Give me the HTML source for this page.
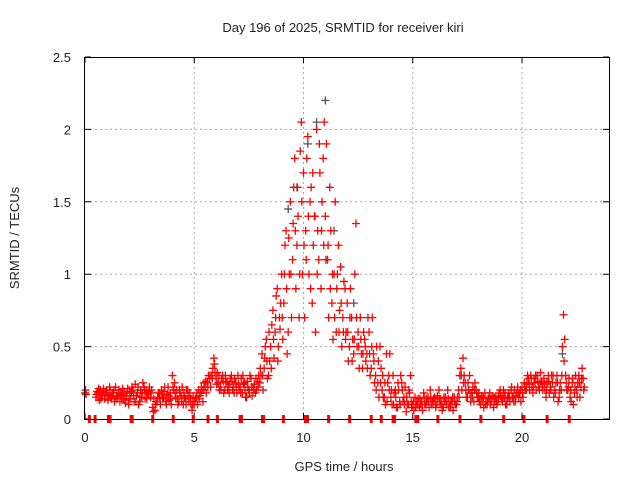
<!DOCTYPE html>
<html><head><meta charset="utf-8"><style>
body{margin:0;background:#fff}
svg text{font-family:"Liberation Sans",sans-serif;font-size:13px;fill:#222}
</style></head><body>
<svg id="chart" width="640" height="480" xmlns="http://www.w3.org/2000/svg">
<text x="343" y="32" text-anchor="middle">Day 196 of 2025, SRMTID for receiver kiri</text>
<text x="344" y="471" text-anchor="middle">GPS time / hours</text>
<text transform="translate(19,238) rotate(-90)" text-anchor="middle">SRMTID / TECUs</text>
<g id="grid"></g><g id="ticks"></g><g id="marks"></g>
<rect x="84.5" y="57.5" width="525" height="362" fill="none" stroke="#000"/>
</svg>
<script>
const xTicks=[0,5,10,15,20];
const yTicks=[0,0.5,1,1.5,2,2.5];
const yTickLabels=["0","0.5","1","1.5","2","2.5"];
const times=[0.0,0.5,0.6,0.7,0.8,0.9,1.0,1.1,1.2,1.3,1.4,1.5,1.6,1.7,1.8,1.9,2.0,2.1,2.2,2.3,2.4,2.5,2.6,2.7,2.8,2.9,3.0,3.1,3.2,3.3,3.4,3.5,3.6,3.7,3.8,3.9,4.0,4.1,4.2,4.3,4.4,4.5,4.6,4.7,4.8,4.9,5.0,5.1,5.2,5.3,5.4,5.5,5.6,5.7,5.8,5.9,6.0,6.1,6.2,6.3,6.4,6.5,6.6,6.7,6.8,6.9,7.0,7.1,7.2,7.3,7.4,7.5,7.6,7.7,7.8,7.9,8.0,8.1,8.2,8.3,8.4,8.5,8.6,8.7,8.8,8.9,9.0,9.1,9.2,9.3,9.4,9.5,9.6,9.7,9.8,9.9,10.0,10.1,10.2,10.3,10.4,10.5,10.6,10.7,10.8,10.9,11.0,11.1,11.2,11.3,11.4,11.5,11.6,11.7,11.8,11.9,12.0,12.1,12.2,12.3,12.4,12.5,12.6,12.7,12.8,12.9,13.0,13.1,13.2,13.3,13.4,13.5,13.6,13.7,13.8,13.9,14.0,14.1,14.2,14.3,14.4,14.5,14.6,14.7,14.8,14.9,15.0,15.1,15.2,15.3,15.4,15.5,15.6,15.7,15.8,15.9,16.0,16.1,16.2,16.3,16.4,16.5,16.6,16.7,16.8,16.9,17.0,17.1,17.2,17.3,17.4,17.5,17.6,17.7,17.8,17.9,18.0,18.1,18.2,18.3,18.4,18.5,18.6,18.7,18.8,18.9,19.0,19.1,19.2,19.3,19.4,19.5,19.6,19.7,19.8,19.9,20.0,20.1,20.2,20.3,20.4,20.5,20.6,20.7,20.8,20.9,21.0,21.1,21.2,21.3,21.4,21.5,21.6,21.7,21.8,21.9,22.0,22.1,22.2,22.3,22.4,22.5,22.6,22.7,22.8];
const valuesA=[.18,.15,.18,.2,.17,.14,.2,.16,.14,.18,.22,.15,.12,.17,.19,.16,.1,.14,.2,.24,.18,.12,.15,.22,.2,.17,.15,.08,.06,.12,.18,.2,.15,.12,.22,.18,.3,.25,.2,.12,.16,.1,.14,.2,.18,.06,.1,.15,.2,.18,.12,.22,.25,.28,.3,.42,.28,.25,.22,.3,.2,.26,.18,.3,.22,.25,.3,.22,.18,.25,.15,.2,.28,.22,.18,.26,.25,.45,.35,.55,.3,.5,.75,.6,.9,.7,1.0,.8,1.3,.6,1.5,1.1,1.8,1.2,.7,2.05,1.7,1.3,1.95,1.5,.8,1.4,2.0,1.1,.9,1.8,1.4,1.1,1.6,.8,1.0,.6,1.2,1.05,.7,.9,.8,.5,.7,.45,1.35,.6,.7,.35,.55,.45,.6,.35,.45,.3,.25,.5,.2,.15,.45,.3,.15,.3,.2,.08,.12,.25,.15,.05,.1,.3,.1,.15,.12,.08,.12,.18,.1,.15,.2,.12,.15,.1,.2,.12,.08,.15,.2,.1,.12,.15,.1,.2,.35,.42,.25,.15,.3,.18,.12,.2,.15,.1,.12,.18,.1,.15,.12,.08,.15,.12,.2,.12,.15,.1,.18,.2,.15,.12,.22,.18,.22,.25,.2,.28,.3,.18,.25,.3,.2,.26,.28,.15,.3,.22,.25,.2,.3,.15,.2,.72,.3,.2,.15,.25,.18,.2,.3,.22,.28];
const valuesB=[.17,.19,.13,.16,.21,.18,.13,.2,.18,.12,.16,.2,.18,.14,.11,.21,.18,.22,.12,.16,.1,.2,.25,.14,.18,.22,.2,.14,.12,.18,.1,.14,.22,.17,.13,.1,.2,.15,.1,.18,.22,.15,.2,.12,.1,.15,.14,.1,.16,.2,.25,.18,.3,.22,.35,.32,.32,.2,.28,.18,.25,.22,.28,.2,.28,.18,.2,.28,.24,.15,.22,.3,.16,.24,.2,.3,.3,.2,.5,.28,.4,.65,.42,.85,.5,.8,.55,1.2,.45,1.0,.7,1.6,.9,1.4,1.85,1.0,.7,1.8,1.0,1.6,1.2,.6,1.3,1.7,1.5,2.05,1.9,.7,1.3,.55,1.5,1.0,.75,.5,.95,.6,.4,.9,.55,1.0,.5,.35,.45,.6,.4,.7,.3,.7,.25,.5,.15,.35,.15,.1,.25,.45,.1,.18,.08,.2,.3,.12,.22,.1,.18,.08,.06,.1,.14,.1,.06,.1,.12,.08,.1,.14,.08,.14,.1,.06,.12,.1,.08,.12,.06,.1,.15,.3,.2,.3,.15,.2,.12,.22,.25,.15,.12,.16,.08,.12,.14,.1,.16,.12,.1,.18,.14,.2,.1,.15,.12,.15,.2,.18,.15,.12,.15,.2,.3,.2,.22,.28,.2,.22,.32,.2,.2,.25,.18,.3,.15,.25,.12,.25,.5,.55,.2,.28,.12,.1,.3,.25,.15,.35,.22];
const valuesC=[.2,.17,.21,.14,.19,.16,.17,.22,.15,.2,.14,.18,.16,.21,.13,.18,.14,.19,.16,.12,.22,.15,.18,.2,.14,.19,.18,.05,.1,.15,.14,.17,.19,.1,.16,.14,.22,.18,.14,.2,.12,.18,.1,.16,.14,.1,.12,.18,.14,.22,.2,.26,.22,.3,.28,.38,.24,.3,.2,.26,.3,.2,.24,.26,.18,.22,.24,.18,.3,.2,.26,.18,.22,.2,.28,.22,.35,.3,.42,.4,.6,.35,.55,.7,.4,.62,.7,1.0,.9,1.25,1.0,1.35,1.3,1.6,1.0,1.5,1.2,1.1,1.4,.9,1.7,1.4,1.0,1.9,1.3,1.2,1.1,1.2,.9,1.0,.7,.9,.6,.8,.6,.55,.6,.7,.4,.55,.7,.5,.55,.45,.5,.35,.45,.5,.4,.2,.4,.25,.3,.25,.12,.2,.2,.1,.15,.25,.1,.2,.1,.15,.2,.12,.12,.08,.1,.14,.1,.15,.14,.12,.15,.1,.12,.16,.14,.1,.15,.12,.14,.08,.15,.12,.12,.15,.3,.25,.2,.25,.18,.15,.2,.18,.18,.14,.15,.1,.12,.18,.14,.15,.12,.15,.16,.15,.18,.14,.15,.22,.12,.16,.18,.2,.18,.22,.25,.24,.28,.22,.3,.26,.25,.22,.24,.2,.26,.2,.3,.18,.25,.2,.3,.4,.25,.22,.2,.28,.22,.15,.25,.28,.2];
const greyTimes=[9.3,9.7,10.2,10.6,11.0,11.4,12.3,21.85];
const greyValues=[1.45,1.6,1.9,2.05,2.2,1.3,0.8,0.45];
const zeroTimes=[0.2,0.46,1.07,1.15,2.11,2.16,3.1,4.04,4.95,5.63,6.06,7.1,7.16,8.12,8.17,9.08,10.09,10.18,11.15,12.11,13.1,13.56,14.1,14.17,15.14,15.23,16.15,17.16,18.12,19.16,20.09,21.15,22.16];
const NS='http://www.w3.org/2000/svg';
const X=t=>85+t*21.85, Y=v=>419-v*144.8;
const grid=document.getElementById('grid'),ticks=document.getElementById('ticks'),marks=document.getElementById('marks');
xTicks.forEach(t=>{
  const x=X(t);
  if(t>0){const l=document.createElementNS(NS,'line');
  
  
  l.setAttribute('x1',x);l.setAttribute('x2',x);l.setAttribute('y1',57);l.setAttribute('y2',419);
  l.setAttribute('stroke','#aaa');l.setAttribute('stroke-dasharray','2,3');grid.appendChild(l);}
  const tk=document.createElementNS(NS,'path');
  
  
  tk.setAttribute('d',`M${x},419v-6M${x},57v6`);tk.setAttribute('stroke','#000');ticks.appendChild(tk);
  const tx=document.createElementNS(NS,'text');
  
  
  tx.setAttribute('x',x);tx.setAttribute('y',442);tx.setAttribute('text-anchor','middle');tx.textContent=t;ticks.appendChild(tx);
});
yTicks.forEach((v,i)=>{
  const y=Y(v);
  if(v>0&&v<2.5){const l=document.createElementNS(NS,'line');
  
  
  l.setAttribute('x1',85);l.setAttribute('x2',609);l.setAttribute('y1',y);l.setAttribute('y2',y);
  l.setAttribute('stroke','#aaa');l.setAttribute('stroke-dasharray','2,3');grid.appendChild(l);}
  const tk=document.createElementNS(NS,'path');
  
  
  tk.setAttribute('d',`M85,${y}h6M609,${y}h-6`);tk.setAttribute('stroke','#000');ticks.appendChild(tk);
  const tx=document.createElementNS(NS,'text');
  
  
  tx.setAttribute('x',71);tx.setAttribute('y',y+5);tx.setAttribute('text-anchor','end');tx.textContent=yTickLabels[i];ticks.appendChild(tx);
});
function plus(t,v,color,name){
  const p=document.createElementNS(NS,'path');
  
  
  const x=X(t),y=Y(v);
  p.setAttribute('d',`M${x-4},${y}h8M${x},${y-4}v8`);p.setAttribute('stroke',color);p.setAttribute('stroke-width','1.3');marks.appendChild(p);
}
greyTimes.forEach((t,i)=>plus(t,greyValues[i],'#555','grey-point'));
times.forEach((t,i)=>{plus(t,valuesA[i],'#f00','red-point');plus(t+0.05,valuesB[i],'#f00','red-point');plus(t+0.025,valuesC[i],'#f00','red-point');});
zeroTimes.forEach(t=>{
  const r=document.createElementNS(NS,'rect');
  
  
  r.setAttribute('x',X(t)-1.5);r.setAttribute('y',415);r.setAttribute('width',3);r.setAttribute('height',8);r.setAttribute('fill','#f00');marks.appendChild(r);
});
</script>
</body></html>
